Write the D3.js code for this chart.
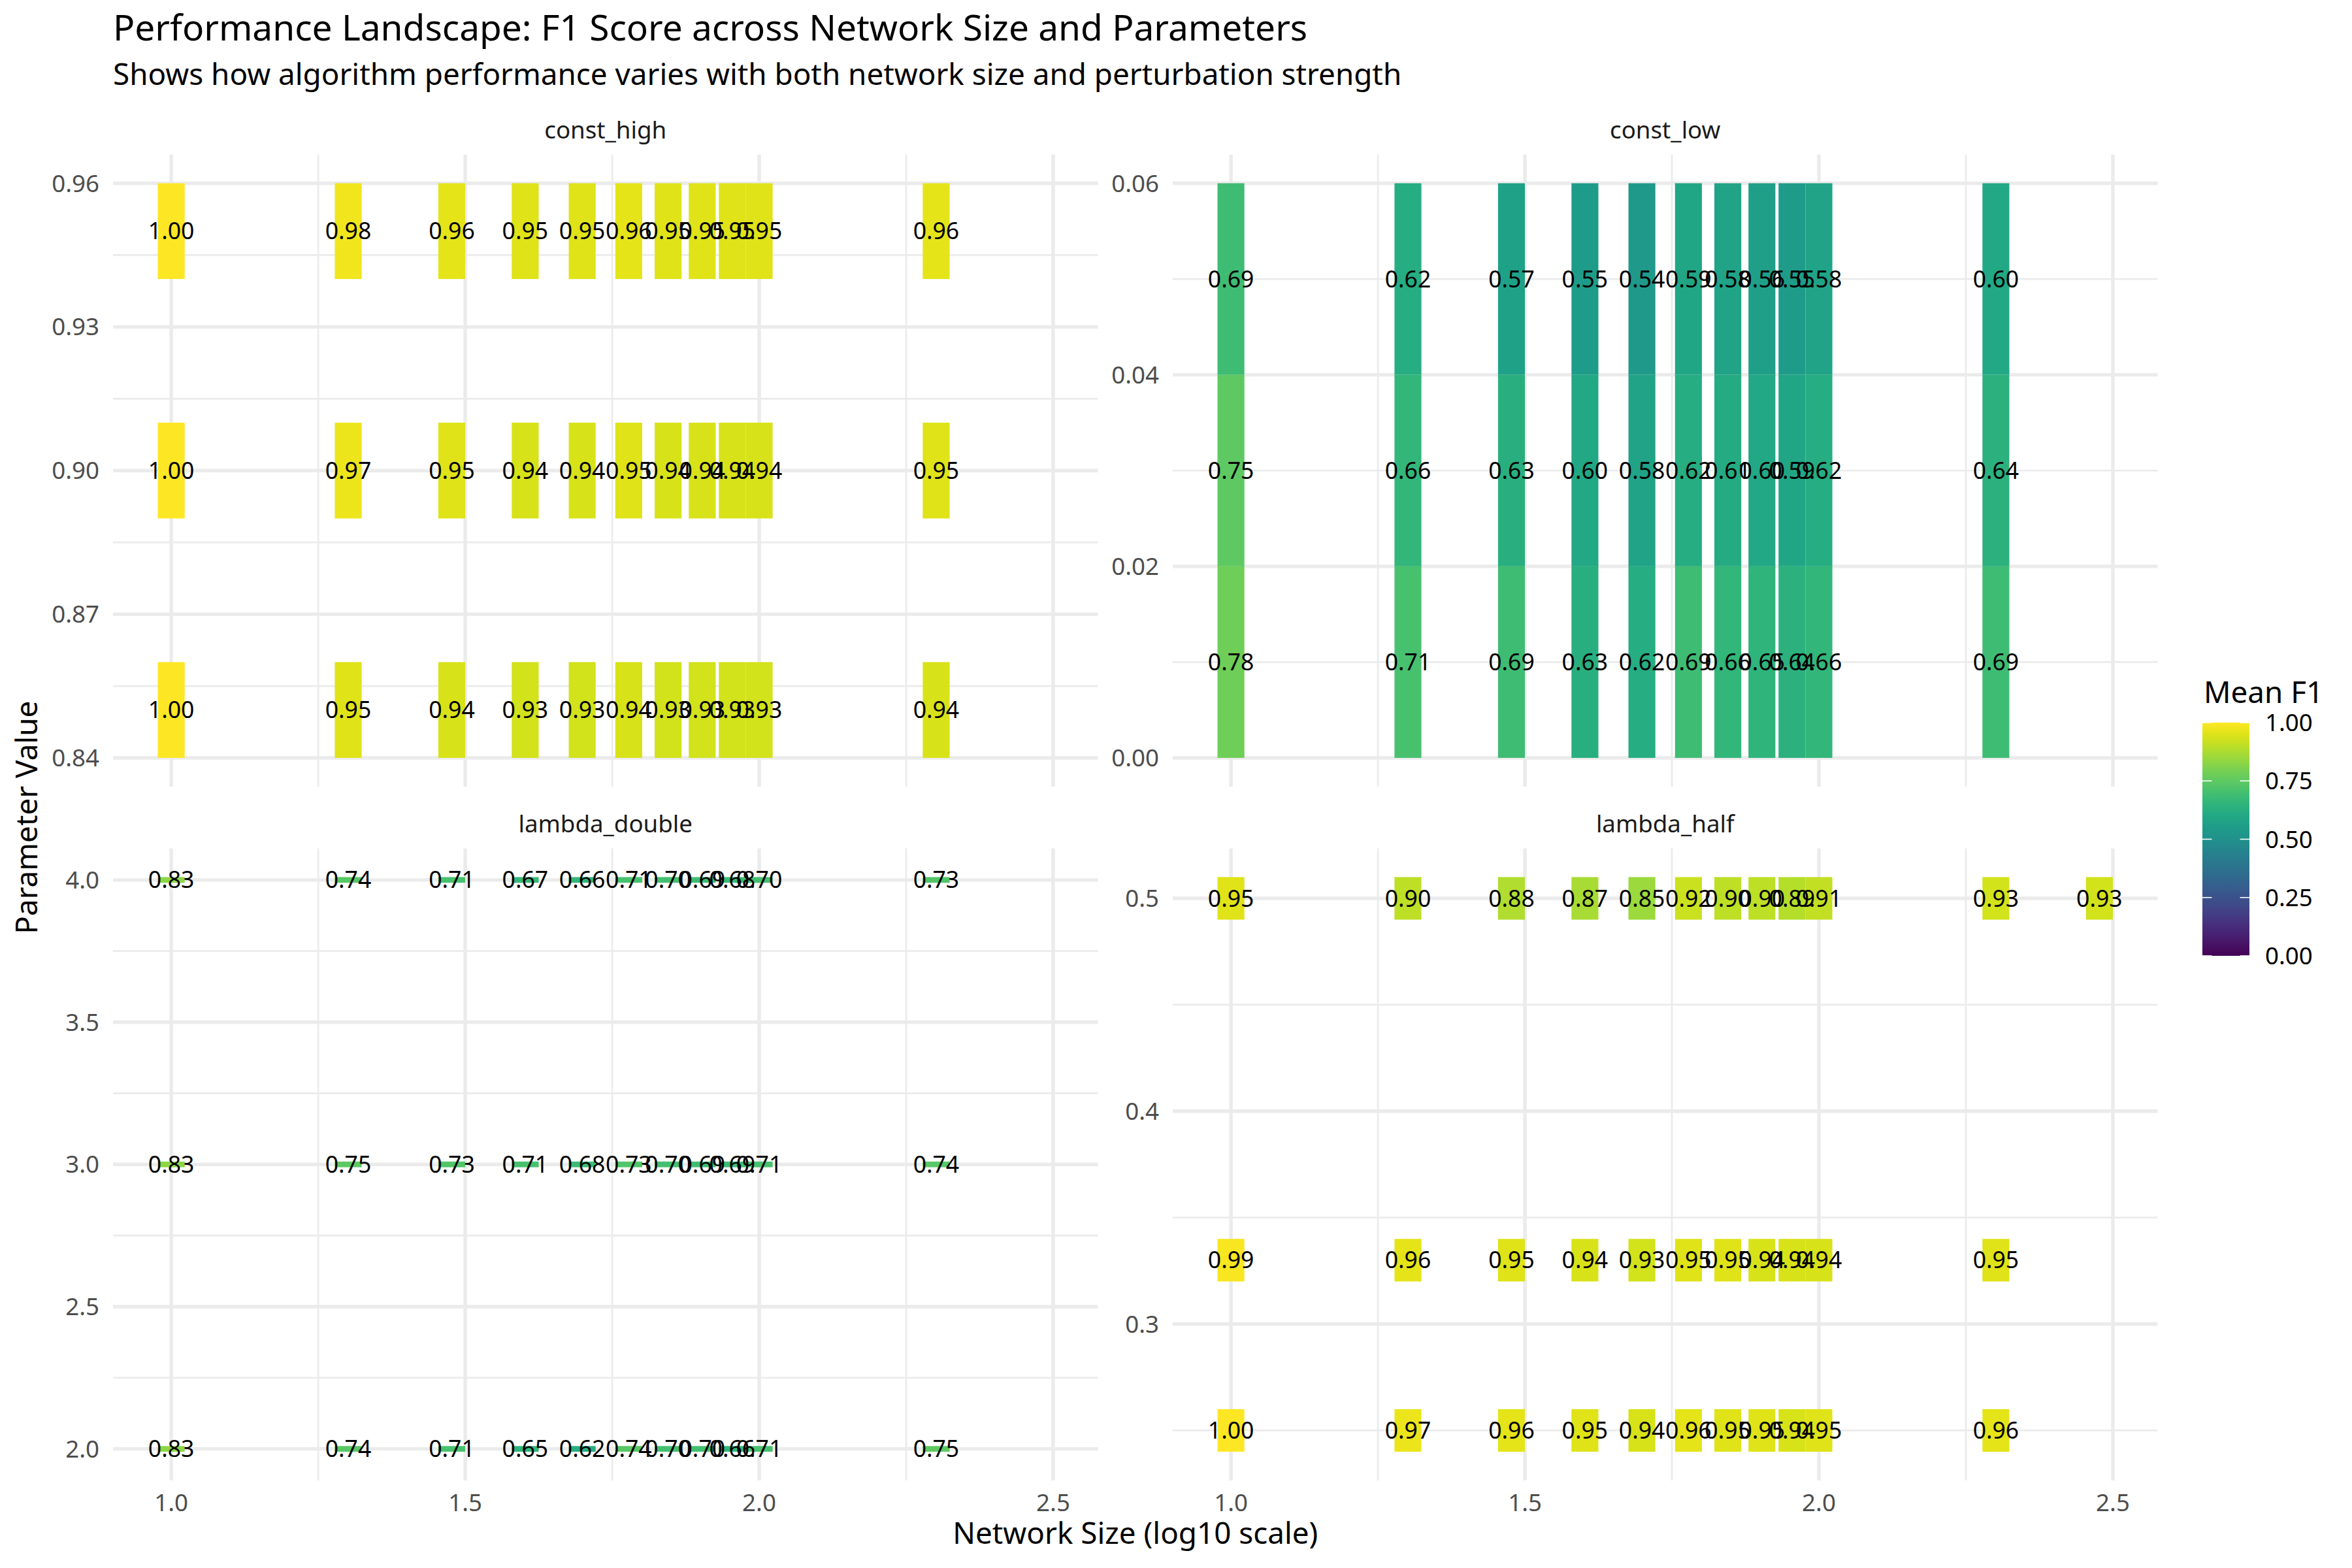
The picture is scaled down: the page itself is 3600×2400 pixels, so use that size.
<!DOCTYPE html>
<html>
<head>
<meta charset="utf-8">
<script src="https://cdn.jsdelivr.net/npm/d3@7"></script>
<style>
  html, body { margin: 0; padding: 0; background: #ffffff; }
  svg { display: block; font-family: "Noto Sans", "Open Sans", sans-serif; }
</style>
</head>
<body>
<svg id="chart" width="3600" height="2400"></svg>
<script>
// ---------------- DATA ----------------
const networkSizes = [10, 20, 30, 40, 50, 60, 70, 80, 90, 100, 200, 300];

const panelNames = ["const_high", "const_low", "lambda_double", "lambda_half"];

const constHighParams = [0.85, 0.90, 0.95];
const constHighF1 = [
  [1.00, 0.95, 0.94, 0.93, 0.93, 0.94, 0.93, 0.93, 0.93, 0.93, 0.94, null],
  [1.00, 0.97, 0.95, 0.94, 0.94, 0.95, 0.94, 0.94, 0.94, 0.94, 0.95, null],
  [1.00, 0.98, 0.96, 0.95, 0.95, 0.96, 0.95, 0.95, 0.95, 0.95, 0.96, null]
];

const constLowParams = [0.01, 0.03, 0.05];
const constLowF1 = [
  [0.78, 0.71, 0.69, 0.63, 0.62, 0.69, 0.66, 0.65, 0.64, 0.66, 0.69, null],
  [0.75, 0.66, 0.63, 0.60, 0.58, 0.62, 0.61, 0.60, 0.59, 0.62, 0.64, null],
  [0.69, 0.62, 0.57, 0.55, 0.54, 0.59, 0.58, 0.56, 0.55, 0.58, 0.60, null]
];

const lambdaDoubleParams = [2, 3, 4];
const lambdaDoubleF1 = [
  [0.83, 0.74, 0.71, 0.65, 0.62, 0.74, 0.70, 0.70, 0.66, 0.71, 0.75, null],
  [0.83, 0.75, 0.73, 0.71, 0.68, 0.73, 0.70, 0.69, 0.69, 0.71, 0.74, null],
  [0.83, 0.74, 0.71, 0.67, 0.66, 0.71, 0.70, 0.69, 0.68, 0.70, 0.73, null]
];

const lambdaHalfParams = [0.25, 0.33, 0.5];
const lambdaHalfF1 = [
  [1.00, 0.97, 0.96, 0.95, 0.94, 0.96, 0.95, 0.95, 0.94, 0.95, 0.96, null],
  [0.99, 0.96, 0.95, 0.94, 0.93, 0.95, 0.95, 0.94, 0.94, 0.94, 0.95, null],
  [0.95, 0.90, 0.88, 0.87, 0.85, 0.92, 0.90, 0.90, 0.89, 0.91, 0.93, 0.93]
];

const xTicks = [1.0, 1.5, 2.0, 2.5];
const xTickLabels = ["1.0", "1.5", "2.0", "2.5"];
const yTicksConstHigh = [0.84, 0.87, 0.90, 0.93, 0.96];
const yTicksConstLow = [0.00, 0.02, 0.04, 0.06];
const yTicksLambdaDouble = [2.0, 2.5, 3.0, 3.5, 4.0];
const yTicksLambdaHalf = [0.3, 0.4, 0.5];
const yTickDecimals = [2, 2, 1, 1];

const legendTicks = [0, 0.25, 0.5, 0.75, 1];
const legendTickLabels = ["0.00", "0.25", "0.50", "0.75", "1.00"];

const titleText = "Performance Landscape: F1 Score across Network Size and Parameters";
const subtitleText = "Shows how algorithm performance varies with both network size and perturbation strength";
const xTitle = "Network Size (log10 scale)";
const yTitle = "Parameter Value";
const legendTitle = "Mean F1";

// ---------------- BUILD ----------------
const paramsList = [constHighParams, constLowParams, lambdaDoubleParams, lambdaHalfParams];
const f1List = [constHighF1, constLowF1, lambdaDoubleF1, lambdaHalfF1];
const yTicksList = [yTicksConstHigh, yTicksConstLow, yTicksLambdaDouble, yTicksLambdaHalf];

const records = [];
panelNames.forEach((p, pi) => {
  paramsList[pi].forEach((pv, ri) => {
    networkSizes.forEach((n, ci) => {
      const v = f1List[pi][ri][ci];
      if (v !== null && v !== undefined) {
        records.push({ panel: pi, x: Math.log10(n), y: pv, f1: v });
      }
    });
  });
});

function resolution(vals) {
  const u = Array.from(new Set(vals.map(v => +v.toFixed(10)))).sort((a, b) => a - b);
  let m = Infinity;
  for (let i = 1; i < u.length; i++) m = Math.min(m, u[i] - u[i - 1]);
  return m;
}
const tileW = resolution(records.map(d => d.x));
const tileH = resolution(records.map(d => d.y));

function expand(lo, hi) { const r = hi - lo; return [lo - r * 0.05, hi + r * 0.05]; }

const xDomain = expand(d3.min(records, d => d.x) - tileW / 2, d3.max(records, d => d.x) + tileW / 2);

// layout
const colX = [[173, 1680.5], [1795, 3302.5]];
const rowY = [[236.5, 1204], [1298.5, 2266]];
const gridCol = "#EBEBEB";
const majorW = 5.4, minorW = 2.7;

const svg = d3.select("#chart");
svg.append("rect").attr("width", 3600).attr("height", 2400).attr("fill", "#ffffff");

const viridis = d3.scaleSequential(d3.interpolateViridis).domain([0, 1]);

function minorBreaks(major, dom) {
  const step = major[1] - major[0];
  const ext = [major[0] - step, ...major, major[major.length - 1] + step];
  const out = [];
  for (let i = 1; i < ext.length; i++) {
    const m = (ext[i] + ext[i - 1]) / 2;
    if (m >= dom[0] && m <= dom[1]) out.push(m);
  }
  return out;
}

panelNames.forEach((name, pi) => {
  const col = pi % 2, row = Math.floor(pi / 2);
  const [x0, x1] = colX[col];
  const [y0, y1] = rowY[row];
  const data = records.filter(d => d.panel === pi);
  const yDomain = expand(d3.min(data, d => d.y) - tileH / 2, d3.max(data, d => d.y) + tileH / 2);
  const xs = d3.scaleLinear().domain(xDomain).range([x0, x1]);
  const ys = d3.scaleLinear().domain(yDomain).range([y1, y0]);
  const g = svg.append("g");

  // minor grid
  minorBreaks(xTicks, xDomain).forEach(v => {
    g.append("line").attr("x1", xs(v)).attr("x2", xs(v)).attr("y1", y0).attr("y2", y1)
      .attr("stroke", gridCol).attr("stroke-width", minorW);
  });
  minorBreaks(yTicksList[pi], yDomain).forEach(v => {
    g.append("line").attr("x1", x0).attr("x2", x1).attr("y1", ys(v)).attr("y2", ys(v))
      .attr("stroke", gridCol).attr("stroke-width", minorW);
  });
  // major grid
  xTicks.forEach(v => {
    g.append("line").attr("x1", xs(v)).attr("x2", xs(v)).attr("y1", y0).attr("y2", y1)
      .attr("stroke", gridCol).attr("stroke-width", majorW);
  });
  yTicksList[pi].forEach(v => {
    g.append("line").attr("x1", x0).attr("x2", x1).attr("y1", ys(v)).attr("y2", ys(v))
      .attr("stroke", gridCol).attr("stroke-width", majorW);
  });

  // tiles
  g.selectAll("rect.tile").data(data).enter().append("rect")
    .attr("class", "tile")
    .attr("x", d => xs(d.x - tileW / 2))
    .attr("width", d => xs(d.x + tileW / 2) - xs(d.x - tileW / 2))
    .attr("y", d => ys(d.y + tileH / 2))
    .attr("height", d => ys(d.y - tileH / 2) - ys(d.y + tileH / 2))
    .attr("fill", d => viridis(d.f1));

  // labels
  g.selectAll("text.lab").data(data).enter().append("text")
    .attr("class", "lab")
    .attr("x", d => xs(d.x)).attr("y", d => ys(d.y)).attr("dy", "0.355em")
    .attr("text-anchor", "middle").attr("font-size", 35.6).attr("fill", "#000000")
    .text(d => d3.format(".2f")(d.f1));

  // y axis labels
  const fmt = d3.format("." + yTickDecimals[pi] + "f");
  yTicksList[pi].forEach(v => {
    g.append("text").attr("x", x0 - 21).attr("y", ys(v)).attr("dy", "0.355em")
      .attr("text-anchor", "end").attr("font-size", 36.7).attr("fill", "#4D4D4D")
      .text(fmt(v));
  });

  // strip
  g.append("text").attr("x", (x0 + x1) / 2).attr("y", y0 - 24.5)
    .attr("text-anchor", "middle").attr("font-size", 36.7).attr("fill", "#1A1A1A")
    .text(name);

  // x axis labels on bottom row
  if (row === 1) {
    xTicks.forEach((v, i) => {
      g.append("text").attr("x", xs(v)).attr("y", y1 + 47)
        .attr("text-anchor", "middle").attr("font-size", 36.7).attr("fill", "#4D4D4D")
        .text(xTickLabels[i]);
    });
  }
});

// titles
svg.append("text").attr("x", 173).attr("y", 62).attr("font-size", 55).attr("fill", "#000")
  .text(titleText);
svg.append("text").attr("x", 173).attr("y", 130).attr("font-size", 45.8).attr("fill", "#000")
  .text(subtitleText);
svg.append("text").attr("x", (colX[0][0] + colX[1][1]) / 2).attr("y", 2363)
  .attr("text-anchor", "middle").attr("font-size", 45.8).attr("fill", "#000").text(xTitle);
svg.append("text").attr("transform", `translate(57,${(rowY[0][0] + rowY[1][1]) / 2}) rotate(-90)`)
  .attr("text-anchor", "middle").attr("font-size", 45.8).attr("fill", "#000").text(yTitle);

// legend
const lgX = 3371, lgY = 1106, lgW = 72, lgH = 357;
const defs = svg.append("defs");
const grad = defs.append("linearGradient").attr("id", "vgrad")
  .attr("x1", "0").attr("y1", "1").attr("x2", "0").attr("y2", "0");
d3.range(0, 1.0001, 0.05).forEach(t => {
  grad.append("stop").attr("offset", t).attr("stop-color", viridis(t));
});
svg.append("rect").attr("x", lgX).attr("y", lgY).attr("width", lgW).attr("height", lgH)
  .attr("fill", "url(#vgrad)");
const ls = d3.scaleLinear().domain([0, 1]).range([lgY + lgH, lgY]);
legendTicks.forEach((v, i) => {
  svg.append("line").attr("x1", lgX).attr("x2", lgX + lgW * 0.2).attr("y1", ls(v)).attr("y2", ls(v))
    .attr("stroke", "#ffffff").attr("stroke-width", 1.6);
  svg.append("line").attr("x1", lgX + lgW * 0.8).attr("x2", lgX + lgW).attr("y1", ls(v)).attr("y2", ls(v))
    .attr("stroke", "#ffffff").attr("stroke-width", 1.6);
  svg.append("text").attr("x", 3467).attr("y", ls(v)).attr("dy", "0.355em")
    .attr("font-size", 36.7).attr("fill", "#000").text(legendTickLabels[i]);
});
svg.append("text").attr("x", 3373).attr("y", 1076).attr("font-size", 45.8).attr("fill", "#000")
  .text(legendTitle);
</script>
</body>
</html>
